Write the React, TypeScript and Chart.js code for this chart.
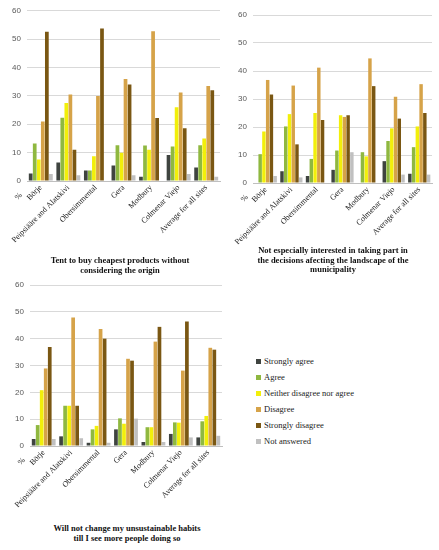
import React, { useEffect, useRef } from 'react';
import { Chart, registerables } from 'chart.js';

Chart.register(...registerables);

const categories = ['Börje', 'Peipsiääre and Alatskivi', 'Obersimmental', 'Gera', 'Modbury', 'Colmenar Viejo', 'Average for all sites'];
const seriesNames = ['Strongly agree', 'Agree', 'Neither disagree nor agree', 'Disagree', 'Strongly disagree', 'Not answered'];
const seriesColors = ['#3f4440', '#8fb840', '#f2ef0a', '#d6a349', '#7a5713', '#c0c0c0'];
const yTickValues = [0, 10, 20, 30, 40, 50, 60];

// Chart 1: Tent to buy cheapest products without considering the origin
const buyStronglyAgree = [2.6, 6.5, 3.7, 5.5, 1.5, 9.2, 4.8];
const buyAgree = [13.2, 22.3, 3.7, 12.6, 12.5, 12.2, 12.6];
const buyNeither = [7.6, 27.5, 8.7, 10.0, 11.0, 26.0, 15.0];
const buyDisagree = [21.0, 30.5, 30.0, 36.0, 52.8, 31.2, 33.5];
const buyStronglyDisagree = [52.6, 11.0, 53.8, 34.0, 22.2, 18.6, 32.0];
const buyNotAnswered = [2.5, 2.0, 0, 2.0, 0, 2.5, 1.5];

// Chart 2: Not especially interested in taking part in the decisions...
const landStronglyAgree = [0, 4.2, 2.5, 4.7, 0, 7.8, 3.3];
const landAgree = [10.3, 20.2, 8.6, 11.6, 11.0, 15.0, 12.8];
const landNeither = [18.4, 24.6, 25.0, 24.2, 9.5, 19.5, 20.2];
const landDisagree = [36.8, 34.8, 41.2, 23.6, 44.5, 30.8, 35.3];
const landStronglyDisagree = [31.6, 13.8, 22.5, 24.2, 34.6, 23.0, 25.0];
const landNotAnswered = [2.5, 2.0, 0, 11.0, 0, 3.0, 3.0];

// Chart 3: Will not change my unsustainable habits...
const habitStronglyAgree = [2.6, 3.6, 1.2, 6.2, 1.5, 4.5, 3.2];
const habitAgree = [7.8, 15.0, 6.2, 10.3, 7.0, 8.8, 9.2];
const habitNeither = [20.8, 15.0, 7.5, 8.3, 7.0, 8.7, 11.2];
const habitDisagree = [28.9, 47.9, 43.6, 32.5, 38.9, 28.1, 36.6];
const habitStronglyDisagree = [36.9, 15.0, 40.0, 31.8, 44.4, 46.4, 35.9];
const habitNotAnswered = [2.6, 2.9, 1.2, 10.2, 1.5, 3.2, 3.8];

const buySeries = [buyStronglyAgree, buyAgree, buyNeither, buyDisagree, buyStronglyDisagree, buyNotAnswered];
const landSeries = [landStronglyAgree, landAgree, landNeither, landDisagree, landStronglyDisagree, landNotAnswered];
const habitSeries = [habitStronglyAgree, habitAgree, habitNeither, habitDisagree, habitStronglyDisagree, habitNotAnswered];

const percentPlugin = {
  id: 'percentLabel',
  afterDraw(chart: any) {
    const { ctx, chartArea } = chart;
    ctx.save();
    ctx.translate(chartArea.left - 6, chartArea.bottom + 13);
    ctx.rotate(-Math.PI / 4);
    ctx.font = '8px "Liberation Serif", serif';
    ctx.fillStyle = '#222';
    ctx.textAlign = 'right';
    ctx.textBaseline = 'middle';
    ctx.fillText('%', 0, 0);
    ctx.restore();
  },
};

type PanelProps = {
  left: number;
  top: number;
  width: number;
  height: number;
  plotLeft: number;
  plotTop: number;
  plotRight: number;
  plotBottom: number;
  series: number[][];
};

function BarPanel(p: PanelProps) {
  const ref = useRef<HTMLCanvasElement | null>(null);
  useEffect(() => {
    if (!ref.current) return;
    const chart = new Chart(ref.current, {
      type: 'bar',
      data: {
        labels: categories,
        datasets: p.series.map((vals, i) => ({
          label: seriesNames[i],
          data: vals,
          backgroundColor: seriesColors[i],
          borderWidth: 0,
          categoryPercentage: 0.88,
          barPercentage: 0.92,
        })),
      },
      options: {
        animation: false,
        responsive: false,
        maintainAspectRatio: false,
        layout: { padding: { top: p.plotTop, right: p.width - p.plotRight, left: 0, bottom: 0 } },
        plugins: { legend: { display: false }, tooltip: { enabled: false }, title: { display: false } },
        scales: {
          x: {
            grid: { display: false, drawTicks: false },
            border: { color: '#bfbfbf' },
            ticks: {
              autoSkip: false,
              maxRotation: 45,
              minRotation: 45,
              padding: 2,
              color: '#222',
              font: { family: '"Liberation Serif", serif', size: 8 },
            },
            afterFit: (scale: any) => {
              scale.height = p.height - p.plotBottom;
            },
          },
          y: {
            min: 0,
            max: 60,
            afterBuildTicks: (scale: any) => {
              scale.ticks = yTickValues.map((v) => ({ value: v }));
            },
            grid: { color: '#d9d9d9', drawTicks: false },
            border: { display: false },
            ticks: {
              padding: 6,
              color: '#595959',
              font: { family: '"Liberation Sans", sans-serif', size: 8 },
            },
            afterFit: (scale: any) => {
              scale.width = p.plotLeft;
            },
          },
        },
      },
      plugins: [percentPlugin],
    });
    return () => chart.destroy();
  }, []);
  return (
    <canvas
      ref={ref}
      width={p.width}
      height={p.height}
      style={{ position: 'absolute', left: p.left, top: p.top, width: p.width, height: p.height }}
    />
  );
}

const titleStyle: React.CSSProperties = {
  position: 'absolute',
  textAlign: 'center',
  fontFamily: '"Liberation Serif", serif',
  fontWeight: 'bold',
  fontSize: 8.5,
  lineHeight: '9.5px',
  color: '#111',
};

export default function App() {
  return (
    <div style={{ position: 'absolute', left: 0, top: 0, width: 439, height: 550, background: '#fff', overflow: 'hidden' }}>
      <BarPanel left={0} top={0} width={224} height={252} plotLeft={27} plotTop={10} plotRight={220} plotBottom={181} series={buySeries} />
      <BarPanel left={222} top={0} width={217} height={250} plotLeft={31} plotTop={15} plotRight={210} plotBottom={183} series={landSeries} />
      <BarPanel left={0} top={270} width={226} height={252} plotLeft={30} plotTop={15} plotRight={222} plotBottom={176} series={habitSeries} />

      <div style={{ ...titleStyle, left: 30, top: 256, width: 180 }}>
        Tent to buy cheapest products without<br />considering the origin
      </div>
      <div style={{ ...titleStyle, left: 253, top: 246, width: 160 }}>
        Not especially interested in taking part in<br />the decisions afecting the landscape of the<br />municipality
      </div>
      <div style={{ ...titleStyle, left: 37, top: 524, width: 180 }}>
        Will not change my unsustainable habits<br />till I see more people doing so
      </div>

      <div style={{ position: 'absolute', left: 256, top: 353, fontFamily: '"Liberation Serif", serif', fontSize: 8.5, color: '#222' }}>
        {seriesNames.map((n, i) => (
          <div key={n} style={{ height: 16, display: 'flex', alignItems: 'center' }}>
            <span style={{ display: 'inline-block', width: 5, height: 5, background: seriesColors[i], marginRight: 3 }} />
            {n}
          </div>
        ))}
      </div>
    </div>
  );
}
